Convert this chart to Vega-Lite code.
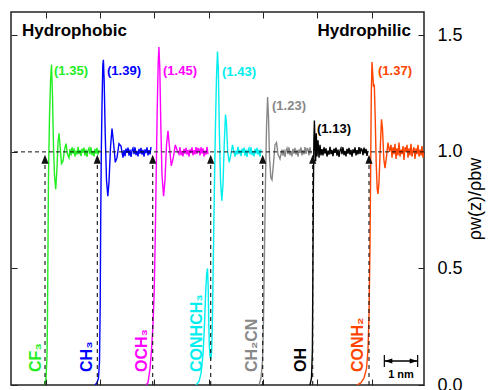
{
"$schema":"https://vega.github.io/schema/vega-lite/v6.json",
"width":413,"height":373,
"autosize":{"type":"none"},
"padding":{"left":11,"top":12,"right":65,"bottom":5},
"background":"white",
"config":{"font":"Liberation Sans","view":{"stroke":"#222","strokeWidth":1.5},"axis":{"tickColor":"#222","tickWidth":1,"grid":false,"domain":false}},
"datasets":{
"profiles":[
{"s":"CF3","x":1.005,"y":0},{"s":"CF3","x":1.05,"y":0.03},{"s":"CF3","x":1.08,"y":0.12},{"s":"CF3","x":1.095,"y":0.3},{"s":"CF3","x":1.11,"y":0.6},{"s":"CF3","x":1.125,"y":0.9},{"s":"CF3","x":1.155,"y":1.15},{"s":"CF3","x":1.185,"y":1.3},{"s":"CF3","x":1.215,"y":1.375},{"s":"CF3","x":1.245,"y":1.24},{"s":"CF3","x":1.275,"y":1.02},{"s":"CF3","x":1.305,"y":0.9},{"s":"CF3","x":1.341,"y":0.84},{"s":"CF3","x":1.38,"y":0.93},{"s":"CF3","x":1.41,"y":1.04},{"s":"CF3","x":1.44,"y":1.08},{"s":"CF3","x":1.47,"y":1.03},{"s":"CF3","x":1.515,"y":0.95},{"s":"CF3","x":1.56,"y":0.96},{"s":"CF3","x":1.605,"y":1.01},{"s":"CF3","x":1.65,"y":1.035},{"s":"CF3","x":1.695,"y":0.99},{"s":"CF3","x":1.74,"y":0.975},
{"s":"CF3","x":1.77,"y":1.012},{"s":"CF3","x":1.8,"y":0.985},{"s":"CF3","x":1.83,"y":1.02},{"s":"CF3","x":1.86,"y":0.992},{"s":"CF3","x":1.89,"y":1.015},{"s":"CF3","x":1.92,"y":0.98},{"s":"CF3","x":1.95,"y":1.005},{"s":"CF3","x":1.98,"y":0.988},{"s":"CF3","x":2.01,"y":1.022},{"s":"CF3","x":2.04,"y":0.99},{"s":"CF3","x":2.07,"y":1.008},{"s":"CF3","x":2.1,"y":0.982},{"s":"CF3","x":2.13,"y":1.014},{"s":"CF3","x":2.16,"y":0.996},{"s":"CF3","x":2.19,"y":1.018},{"s":"CF3","x":2.22,"y":0.984},{"s":"CF3","x":2.25,"y":1.01},{"s":"CF3","x":2.28,"y":0.978},{"s":"CF3","x":2.31,"y":1.006},{"s":"CF3","x":2.34,"y":1.016},{"s":"CF3","x":2.37,"y":0.99},{"s":"CF3","x":2.4,"y":1.02},{"s":"CF3","x":2.43,"y":0.986},{"s":"CF3","x":2.46,"y":1.004},{"s":"CF3","x":2.49,"y":0.981},{"s":"CF3","x":2.52,"y":1.013},{"s":"CF3","x":2.55,"y":0.993},{"s":"CF3","x":2.58,"y":1.017},{"s":"CF3","x":2.61,"y":0.988},{"s":"CF3","x":2.64,"y":1.009},
{"s":"CH3","x":2.52,"y":0},{"s":"CH3","x":2.58,"y":0.01},{"s":"CH3","x":2.625,"y":0.03},{"s":"CH3","x":2.655,"y":0.1},{"s":"CH3","x":2.676,"y":0.35},{"s":"CH3","x":2.691,"y":0.7},{"s":"CH3","x":2.709,"y":1.0},{"s":"CH3","x":2.73,"y":1.2},{"s":"CH3","x":2.754,"y":1.37},{"s":"CH3","x":2.772,"y":1.395},{"s":"CH3","x":2.796,"y":1.3},{"s":"CH3","x":2.826,"y":1.08},{"s":"CH3","x":2.865,"y":0.88},{"s":"CH3","x":2.904,"y":0.81},{"s":"CH3","x":2.94,"y":0.87},{"s":"CH3","x":2.985,"y":1.02},{"s":"CH3","x":3.03,"y":1.1},{"s":"CH3","x":3.075,"y":1.04},{"s":"CH3","x":3.129,"y":0.955},{"s":"CH3","x":3.18,"y":0.975},{"s":"CH3","x":3.24,"y":1.035},{"s":"CH3","x":3.3,"y":1.025},{"s":"CH3","x":3.36,"y":0.975},
{"s":"CH3","x":3.39,"y":1.008},{"s":"CH3","x":3.42,"y":0.982},{"s":"CH3","x":3.45,"y":1.014},{"s":"CH3","x":3.48,"y":0.996},{"s":"CH3","x":3.51,"y":1.018},{"s":"CH3","x":3.54,"y":0.984},{"s":"CH3","x":3.57,"y":1.01},{"s":"CH3","x":3.6,"y":0.978},{"s":"CH3","x":3.63,"y":1.006},{"s":"CH3","x":3.66,"y":1.016},{"s":"CH3","x":3.69,"y":0.99},{"s":"CH3","x":3.72,"y":1.02},{"s":"CH3","x":3.75,"y":0.986},{"s":"CH3","x":3.78,"y":1.004},{"s":"CH3","x":3.81,"y":0.981},{"s":"CH3","x":3.84,"y":1.013},{"s":"CH3","x":3.87,"y":0.993},{"s":"CH3","x":3.9,"y":1.017},{"s":"CH3","x":3.93,"y":0.988},{"s":"CH3","x":3.96,"y":1.009},{"s":"CH3","x":3.99,"y":0.979},{"s":"CH3","x":4.02,"y":1.011},{"s":"CH3","x":4.05,"y":0.995},{"s":"CH3","x":4.08,"y":1.019},{"s":"CH3","x":4.11,"y":0.985},{"s":"CH3","x":4.14,"y":1.007},{"s":"CH3","x":4.17,"y":0.989},{"s":"CH3","x":4.2,"y":1.021},
{"s":"OCH3","x":4.05,"y":0},{"s":"OCH3","x":4.11,"y":0.01},{"s":"OCH3","x":4.17,"y":0.07},{"s":"OCH3","x":4.215,"y":0.15},{"s":"OCH3","x":4.26,"y":0.26},{"s":"OCH3","x":4.296,"y":0.4},{"s":"OCH3","x":4.326,"y":0.62},{"s":"OCH3","x":4.356,"y":0.9},{"s":"OCH3","x":4.386,"y":1.18},{"s":"OCH3","x":4.416,"y":1.38},{"s":"OCH3","x":4.437,"y":1.45},{"s":"OCH3","x":4.464,"y":1.36},{"s":"OCH3","x":4.494,"y":1.12},{"s":"OCH3","x":4.53,"y":0.9},{"s":"OCH3","x":4.578,"y":0.81},{"s":"OCH3","x":4.62,"y":0.88},{"s":"OCH3","x":4.665,"y":1.03},{"s":"OCH3","x":4.71,"y":1.09},{"s":"OCH3","x":4.755,"y":1.02},{"s":"OCH3","x":4.809,"y":0.94},{"s":"OCH3","x":4.869,"y":0.975},{"s":"OCH3","x":4.929,"y":1.03},{"s":"OCH3","x":4.989,"y":1.005},
{"s":"OCH3","x":5.04,"y":0.99},{"s":"OCH3","x":5.07,"y":1.02},{"s":"OCH3","x":5.1,"y":0.986},{"s":"OCH3","x":5.13,"y":1.004},{"s":"OCH3","x":5.16,"y":0.981},{"s":"OCH3","x":5.19,"y":1.013},{"s":"OCH3","x":5.22,"y":0.993},{"s":"OCH3","x":5.25,"y":1.017},{"s":"OCH3","x":5.28,"y":0.988},{"s":"OCH3","x":5.31,"y":1.009},{"s":"OCH3","x":5.34,"y":0.979},{"s":"OCH3","x":5.37,"y":1.011},{"s":"OCH3","x":5.4,"y":0.995},{"s":"OCH3","x":5.43,"y":1.019},{"s":"OCH3","x":5.46,"y":0.985},{"s":"OCH3","x":5.49,"y":1.007},{"s":"OCH3","x":5.52,"y":0.989},{"s":"OCH3","x":5.55,"y":1.021},{"s":"OCH3","x":5.58,"y":0.991},{"s":"OCH3","x":5.61,"y":1.014},{"s":"OCH3","x":5.64,"y":1.012},{"s":"OCH3","x":5.67,"y":0.985},{"s":"OCH3","x":5.7,"y":1.02},{"s":"OCH3","x":5.73,"y":0.992},{"s":"OCH3","x":5.76,"y":1.015},{"s":"OCH3","x":5.79,"y":0.98},{"s":"OCH3","x":5.82,"y":1.005},{"s":"OCH3","x":5.85,"y":0.988},{"s":"OCH3","x":5.88,"y":1.022},{"s":"OCH3","x":5.91,"y":0.99},
{"s":"CONHCH3","x":5.55,"y":0},{"s":"CONHCH3","x":5.64,"y":0.015},{"s":"CONHCH3","x":5.7,"y":0.05},{"s":"CONHCH3","x":5.76,"y":0.13},{"s":"CONHCH3","x":5.805,"y":0.26},{"s":"CONHCH3","x":5.841,"y":0.4},{"s":"CONHCH3","x":5.871,"y":0.48},{"s":"CONHCH3","x":5.895,"y":0.5},{"s":"CONHCH3","x":5.916,"y":0.42},{"s":"CONHCH3","x":5.931,"y":0.28},{"s":"CONHCH3","x":5.949,"y":0.17},{"s":"CONHCH3","x":5.97,"y":0.125},{"s":"CONHCH3","x":5.994,"y":0.11},{"s":"CONHCH3","x":6.018,"y":0.14},{"s":"CONHCH3","x":6.039,"y":0.25},{"s":"CONHCH3","x":6.06,"y":0.45},{"s":"CONHCH3","x":6.084,"y":0.68},{"s":"CONHCH3","x":6.108,"y":0.9},{"s":"CONHCH3","x":6.135,"y":1.12},{"s":"CONHCH3","x":6.165,"y":1.32},{"s":"CONHCH3","x":6.195,"y":1.43},{"s":"CONHCH3","x":6.219,"y":1.36},{"s":"CONHCH3","x":6.249,"y":1.1},{"s":"CONHCH3","x":6.285,"y":0.88},{"s":"CONHCH3","x":6.324,"y":0.79},{"s":"CONHCH3","x":6.36,"y":0.86},{"s":"CONHCH3","x":6.399,"y":1.04},{"s":"CONHCH3","x":6.435,"y":1.16},{"s":"CONHCH3","x":6.465,"y":1.12},{"s":"CONHCH3","x":6.501,"y":1.0},{"s":"CONHCH3","x":6.546,"y":0.955},{"s":"CONHCH3","x":6.6,"y":0.99},{"s":"CONHCH3","x":6.645,"y":1.03},{"s":"CONHCH3","x":6.69,"y":1.0},
{"s":"CONHCH3","x":6.72,"y":0.98},{"s":"CONHCH3","x":6.75,"y":1.005},{"s":"CONHCH3","x":6.78,"y":0.988},{"s":"CONHCH3","x":6.81,"y":1.022},{"s":"CONHCH3","x":6.84,"y":0.99},{"s":"CONHCH3","x":6.87,"y":1.008},{"s":"CONHCH3","x":6.9,"y":0.982},{"s":"CONHCH3","x":6.93,"y":1.014},{"s":"CONHCH3","x":6.96,"y":0.996},{"s":"CONHCH3","x":6.99,"y":1.018},{"s":"CONHCH3","x":7.02,"y":0.984},{"s":"CONHCH3","x":7.05,"y":1.01},{"s":"CONHCH3","x":7.08,"y":0.978},{"s":"CONHCH3","x":7.11,"y":1.006},{"s":"CONHCH3","x":7.14,"y":1.016},{"s":"CONHCH3","x":7.17,"y":0.99},{"s":"CONHCH3","x":7.2,"y":1.02},{"s":"CONHCH3","x":7.23,"y":0.986},{"s":"CONHCH3","x":7.26,"y":1.004},{"s":"CONHCH3","x":7.29,"y":0.981},{"s":"CONHCH3","x":7.32,"y":1.013},{"s":"CONHCH3","x":7.35,"y":0.993},{"s":"CONHCH3","x":7.38,"y":1.017},{"s":"CONHCH3","x":7.41,"y":0.988},{"s":"CONHCH3","x":7.44,"y":1.009},{"s":"CONHCH3","x":7.47,"y":0.979},{"s":"CONHCH3","x":7.5,"y":1.011},
{"s":"CH2CN","x":7.44,"y":0},{"s":"CH2CN","x":7.5,"y":0.03},{"s":"CH2CN","x":7.545,"y":0.1},{"s":"CH2CN","x":7.575,"y":0.28},{"s":"CH2CN","x":7.605,"y":0.58},{"s":"CH2CN","x":7.635,"y":0.88},{"s":"CH2CN","x":7.665,"y":1.1},{"s":"CH2CN","x":7.698,"y":1.235},{"s":"CH2CN","x":7.725,"y":1.15},{"s":"CH2CN","x":7.755,"y":0.98},{"s":"CH2CN","x":7.794,"y":0.89},{"s":"CH2CN","x":7.83,"y":0.88},{"s":"CH2CN","x":7.875,"y":0.95},{"s":"CH2CN","x":7.92,"y":1.03},{"s":"CH2CN","x":7.965,"y":1.04},{"s":"CH2CN","x":8.01,"y":0.99},{"s":"CH2CN","x":8.07,"y":0.97},{"s":"CH2CN","x":8.13,"y":1.01},
{"s":"CH2CN","x":8.16,"y":0.984},{"s":"CH2CN","x":8.19,"y":1.01},{"s":"CH2CN","x":8.22,"y":0.978},{"s":"CH2CN","x":8.25,"y":1.006},{"s":"CH2CN","x":8.28,"y":1.016},{"s":"CH2CN","x":8.31,"y":0.99},{"s":"CH2CN","x":8.34,"y":1.02},{"s":"CH2CN","x":8.37,"y":0.986},{"s":"CH2CN","x":8.4,"y":1.004},{"s":"CH2CN","x":8.43,"y":0.981},{"s":"CH2CN","x":8.46,"y":1.013},{"s":"CH2CN","x":8.49,"y":0.993},{"s":"CH2CN","x":8.52,"y":1.017},{"s":"CH2CN","x":8.55,"y":0.988},{"s":"CH2CN","x":8.58,"y":1.009},{"s":"CH2CN","x":8.61,"y":0.979},{"s":"CH2CN","x":8.64,"y":1.011},{"s":"CH2CN","x":8.67,"y":0.995},{"s":"CH2CN","x":8.7,"y":1.019},{"s":"CH2CN","x":8.73,"y":0.985},{"s":"CH2CN","x":8.76,"y":1.007},{"s":"CH2CN","x":8.79,"y":0.989},{"s":"CH2CN","x":8.82,"y":1.021},{"s":"CH2CN","x":8.85,"y":0.991},{"s":"CH2CN","x":8.88,"y":1.014},{"s":"CH2CN","x":8.91,"y":1.012},{"s":"CH2CN","x":8.94,"y":0.985},{"s":"CH2CN","x":8.97,"y":1.02},{"s":"CH2CN","x":9.0,"y":0.992},
{"s":"OH","x":8.97,"y":0},{"s":"OH","x":9.015,"y":0.03},{"s":"OH","x":9.042,"y":0.15},{"s":"OH","x":9.057,"y":0.5},{"s":"OH","x":9.072,"y":0.85},{"s":"OH","x":9.087,"y":1.05},{"s":"OH","x":9.102,"y":1.135},{"s":"OH","x":9.12,"y":1.04},{"s":"OH","x":9.138,"y":0.96},{"s":"OH","x":9.159,"y":1.08},{"s":"OH","x":9.18,"y":0.98},{"s":"OH","x":9.21,"y":1.05},{"s":"OH","x":9.24,"y":0.975},{"s":"OH","x":9.27,"y":1.03},{"s":"OH","x":9.3,"y":0.985},
{"s":"OH","x":9.33,"y":1.012},{"s":"OH","x":9.36,"y":0.985},{"s":"OH","x":9.39,"y":1.02},{"s":"OH","x":9.42,"y":0.992},{"s":"OH","x":9.45,"y":1.015},{"s":"OH","x":9.48,"y":0.98},{"s":"OH","x":9.51,"y":1.005},{"s":"OH","x":9.54,"y":0.988},{"s":"OH","x":9.57,"y":1.022},{"s":"OH","x":9.6,"y":0.99},{"s":"OH","x":9.63,"y":1.008},{"s":"OH","x":9.66,"y":0.982},{"s":"OH","x":9.69,"y":1.014},{"s":"OH","x":9.72,"y":0.996},{"s":"OH","x":9.75,"y":1.018},{"s":"OH","x":9.78,"y":0.984},{"s":"OH","x":9.81,"y":1.01},{"s":"OH","x":9.84,"y":0.978},{"s":"OH","x":9.87,"y":1.006},{"s":"OH","x":9.9,"y":1.016},{"s":"OH","x":9.93,"y":0.99},{"s":"OH","x":9.96,"y":1.02},{"s":"OH","x":9.99,"y":0.986},{"s":"OH","x":10.02,"y":1.004},{"s":"OH","x":10.05,"y":0.981},{"s":"OH","x":10.08,"y":1.013},{"s":"OH","x":10.11,"y":0.993},{"s":"OH","x":10.14,"y":1.017},{"s":"OH","x":10.17,"y":0.988},{"s":"OH","x":10.2,"y":1.009},{"s":"OH","x":10.23,"y":0.979},{"s":"OH","x":10.26,"y":1.011},{"s":"OH","x":10.29,"y":0.995},{"s":"OH","x":10.32,"y":1.019},{"s":"OH","x":10.35,"y":0.985},{"s":"OH","x":10.38,"y":1.007},{"s":"OH","x":10.41,"y":0.989},{"s":"OH","x":10.44,"y":1.021},{"s":"OH","x":10.47,"y":0.991},{"s":"OH","x":10.5,"y":1.014},{"s":"OH","x":10.53,"y":1.01},{"s":"OH","x":10.56,"y":0.986},{"s":"OH","x":10.59,"y":1.018},{"s":"OH","x":10.62,"y":0.994},{"s":"OH","x":10.65,"y":1.013},{"s":"OH","x":10.68,"y":0.983},{"s":"OH","x":10.71,"y":1.004},
{"s":"CONH2","x":10.38,"y":0},{"s":"CONH2","x":10.5,"y":0.01},{"s":"CONH2","x":10.59,"y":0.03},{"s":"CONH2","x":10.665,"y":0.07},{"s":"CONH2","x":10.71,"y":0.15},{"s":"CONH2","x":10.74,"y":0.3},{"s":"CONH2","x":10.77,"y":0.6},{"s":"CONH2","x":10.791,"y":0.95},{"s":"CONH2","x":10.809,"y":1.25},{"s":"CONH2","x":10.83,"y":1.385},{"s":"CONH2","x":10.854,"y":1.33},{"s":"CONH2","x":10.875,"y":1.28},{"s":"CONH2","x":10.899,"y":1.29},{"s":"CONH2","x":10.926,"y":1.15},{"s":"CONH2","x":10.956,"y":0.95},{"s":"CONH2","x":10.986,"y":0.84},{"s":"CONH2","x":11.01,"y":0.82},{"s":"CONH2","x":11.04,"y":0.87},{"s":"CONH2","x":11.079,"y":1.02},{"s":"CONH2","x":11.115,"y":1.14},{"s":"CONH2","x":11.145,"y":1.1},{"s":"CONH2","x":11.184,"y":0.97},{"s":"CONH2","x":11.22,"y":0.93},{"s":"CONH2","x":11.265,"y":0.98},{"s":"CONH2","x":11.31,"y":1.04},{"s":"CONH2","x":11.355,"y":1.0},
{"s":"CONH2","x":11.4,"y":1.03},{"s":"CONH2","x":11.43,"y":0.975},{"s":"CONH2","x":11.46,"y":1.02},{"s":"CONH2","x":11.49,"y":0.99},{"s":"CONH2","x":11.52,"y":1.035},{"s":"CONH2","x":11.55,"y":0.97},{"s":"CONH2","x":11.58,"y":1.015},{"s":"CONH2","x":11.61,"y":0.985},{"s":"CONH2","x":11.64,"y":1.04},{"s":"CONH2","x":11.67,"y":0.98},{"s":"CONH2","x":11.7,"y":1.01},{"s":"CONH2","x":11.73,"y":0.99},{"s":"CONH2","x":11.76,"y":1.025},{"s":"CONH2","x":11.79,"y":0.965},{"s":"CONH2","x":11.82,"y":1.02},{"s":"CONH2","x":11.85,"y":1.0},{"s":"CONH2","x":11.88,"y":1.03},{"s":"CONH2","x":11.91,"y":0.975},{"s":"CONH2","x":11.94,"y":1.015},{"s":"CONH2","x":11.97,"y":0.985},{"s":"CONH2","x":12.0,"y":1.035},{"s":"CONH2","x":12.03,"y":0.98},{"s":"CONH2","x":12.06,"y":1.005},{"s":"CONH2","x":12.09,"y":1.02},{"s":"CONH2","x":12.12,"y":0.97},{"s":"CONH2","x":12.15,"y":1.015},{"s":"CONH2","x":12.18,"y":0.99},{"s":"CONH2","x":12.21,"y":1.03},{"s":"CONH2","x":12.24,"y":0.98},{"s":"CONH2","x":12.27,"y":1.01},{"s":"CONH2","x":12.3,"y":0.985},{"s":"CONH2","x":12.33,"y":1.025},{"s":"CONH2","x":12.36,"y":0.975},{"s":"CONH2","x":12.39,"y":1.005}
],
"surfaces":[{"x":1.02,"y":0,"y2":0.96},{"x":2.589,"y":0,"y2":0.96},{"x":4.251,"y":0,"y2":0.96},{"x":5.991,"y":0,"y2":0.96},{"x":7.551,"y":0,"y2":0.96},{"x":9.051,"y":0,"y2":0.96},{"x":10.74,"y":0,"y2":0.96}],
"arrows":[{"x":1.02,"y":0.968},{"x":2.589,"y":0.968},{"x":4.251,"y":0.968},{"x":5.991,"y":0.968},{"x":7.551,"y":0.968},{"x":9.051,"y":0.968},{"x":10.74,"y":0.968}],
"groupLabels":[{"s":"CF3","t":"CF₃","x":0.735,"y":0.056},{"s":"CH3","t":"CH₃","x":2.28,"y":0.056},{"s":"OCH3","t":"OCH₃","x":3.93,"y":0.056},{"s":"CONHCH3","t":"CONHCH₃","x":5.571,"y":0.056},{"s":"CH2CN","t":"CH₂CN","x":7.215,"y":0.056},{"s":"OH","t":"OH","x":8.7,"y":0.056},{"s":"CONH2","t":"CONH₂","x":10.41,"y":0.056}],
"peakLabels":[{"s":"CF3","t":"(1.35)","x":1.29,"y":1.345},{"s":"CH3","t":"(1.39)","x":2.88,"y":1.345},{"s":"OCH3","t":"(1.45)","x":4.56,"y":1.348},{"s":"CONHCH3","t":"(1.43)","x":6.33,"y":1.343},{"s":"CH2CN","t":"(1.23)","x":7.83,"y":1.197},{"s":"OH","t":"(1.13)","x":9.18,"y":1.099},{"s":"CONH2","t":"(1.37)","x":11.01,"y":1.348}]
},
"layer":[
{"data":{"name":"profiles"},"mark":{"type":"line","strokeWidth":1.4,"clip":true},
"encoding":{
"x":{"field":"x","type":"quantitative","scale":{"domain":[0,12.39],"nice":false,"zero":false},"axis":{"orient":"bottom","values":[1.05,2.67,4.3,5.94,7.56,9.19,10.82],"labels":false,"tickSize":-6,"title":null}},
"y":{"field":"y","type":"quantitative","scale":{"domain":[0,1.6],"nice":false,"zero":false},"axis":{"orient":"left","values":[0,0.5,1,1.5],"labels":false,"tickSize":-6,"title":null}},
"color":{"field":"s","type":"nominal","scale":{"domain":["CF3","CH3","OCH3","CONHCH3","CH2CN","OH","CONH2"],"range":["#22ee22","#0000ff","#ff00ff","#00eeee","#888888","#000000","#ff4500"]},"legend":null},
"order":{"value":null}}},
{"data":{"values":[{"y":1}]},"mark":{"type":"rule","color":"#111","strokeWidth":1,"strokeDash":[4,3]},
"encoding":{"y":{"field":"y","type":"quantitative","scale":{"domain":[0,1.6],"nice":false,"zero":false},"axis":null}}},
{"data":{"name":"surfaces"},"mark":{"type":"rule","color":"#111","strokeWidth":1.1,"strokeDash":[4,4]},
"encoding":{
"x":{"field":"x","type":"quantitative","scale":{"domain":[0,12.39],"nice":false,"zero":false},"axis":{"orient":"top","values":[1.05,2.67,4.3,5.94,7.56,9.19,10.82],"labels":false,"tickSize":-6,"title":null}},
"y":{"field":"y","type":"quantitative","scale":{"domain":[0,1.6],"nice":false,"zero":false},"axis":{"orient":"right","values":[0,0.5,1,1.5],"format":".1f","tickSize":-6,"labelPadding":19,"labelFontSize":18,"labelColor":"#000","labelFlush":false,"title":"ρw(z)/ρbw","titleAngle":270,"titleFontSize":18,"titleFontWeight":"normal","titleColor":"#000","titlePadding":22}},
"y2":{"field":"y2"}}},
{"data":{"name":"arrows"},"mark":{"type":"point","shape":"M -0.8 1 L 0.8 1 L 0 -1 Z","size":81,"filled":true,"color":"#111","opacity":1},
"encoding":{
"x":{"field":"x","type":"quantitative","scale":{"domain":[0,12.39],"nice":false,"zero":false},"axis":null},
"y":{"field":"y","type":"quantitative","scale":{"domain":[0,1.6],"nice":false,"zero":false},"axis":null}}},
{"data":{"name":"groupLabels"},"mark":{"type":"text","angle":270,"align":"left","baseline":"middle","fontSize":16,"fontWeight":"bold"},
"encoding":{
"x":{"field":"x","type":"quantitative","scale":{"domain":[0,12.39],"nice":false,"zero":false},"axis":null},
"y":{"field":"y","type":"quantitative","scale":{"domain":[0,1.6],"nice":false,"zero":false},"axis":null},
"text":{"field":"t"},
"color":{"field":"s","type":"nominal","scale":{"domain":["CF3","CH3","OCH3","CONHCH3","CH2CN","OH","CONH2"],"range":["#22ee22","#0000ff","#ff00ff","#00eeee","#888888","#000000","#ff4500"]},"legend":null}}},
{"data":{"name":"peakLabels"},"mark":{"type":"text","align":"left","baseline":"middle","fontSize":13,"fontWeight":"bold"},
"encoding":{
"x":{"field":"x","type":"quantitative","scale":{"domain":[0,12.39],"nice":false,"zero":false},"axis":null},
"y":{"field":"y","type":"quantitative","scale":{"domain":[0,1.6],"nice":false,"zero":false},"axis":null},
"text":{"field":"t"},
"color":{"field":"s","type":"nominal","scale":{"domain":["CF3","CH3","OCH3","CONHCH3","CH2CN","OH","CONH2"],"range":["#22ee22","#0000ff","#ff00ff","#00eeee","#888888","#000000","#ff4500"]},"legend":null}}},
{"data":{"values":[{"t":"Hydrophobic","x":0.33,"y":1.498}]},"mark":{"type":"text","align":"left","baseline":"alphabetic","fontSize":17,"fontWeight":"bold","color":"#000"},
"encoding":{
"x":{"field":"x","type":"quantitative","scale":{"domain":[0,12.39],"nice":false,"zero":false},"axis":null},
"y":{"field":"y","type":"quantitative","scale":{"domain":[0,1.6],"nice":false,"zero":false},"axis":null},
"text":{"field":"t"}}},
{"data":{"values":[{"t":"Hydrophilic","x":12.0,"y":1.498}]},"mark":{"type":"text","align":"right","baseline":"alphabetic","fontSize":17,"fontWeight":"bold","color":"#000"},
"encoding":{
"x":{"field":"x","type":"quantitative","scale":{"domain":[0,12.39],"nice":false,"zero":false},"axis":null},
"y":{"field":"y","type":"quantitative","scale":{"domain":[0,1.6],"nice":false,"zero":false},"axis":null},
"text":{"field":"t"}}},
{"data":{"values":[{"x":11.2,"x2":12.2,"y":0.103}]},"mark":{"type":"rule","color":"#000","strokeWidth":1.5},
"encoding":{
"x":{"field":"x","type":"quantitative","scale":{"domain":[0,12.39],"nice":false,"zero":false},"axis":null},
"x2":{"field":"x2"},
"y":{"field":"y","type":"quantitative","scale":{"domain":[0,1.6],"nice":false,"zero":false},"axis":null}}},
{"data":{"values":[{"x":11.2,"y":0.077,"y2":0.129},{"x":12.2,"y":0.077,"y2":0.129}]},"mark":{"type":"rule","color":"#000","strokeWidth":1.2},
"encoding":{
"x":{"field":"x","type":"quantitative","scale":{"domain":[0,12.39],"nice":false,"zero":false},"axis":null},
"y":{"field":"y","type":"quantitative","scale":{"domain":[0,1.6],"nice":false,"zero":false},"axis":null},
"y2":{"field":"y2"}}},
{"data":{"values":[{"x":11.32,"y":0.103}]},"mark":{"type":"point","shape":"M -1 0 L 1 -0.6 L 1 0.6 Z","size":64,"filled":true,"color":"#000","opacity":1},
"encoding":{
"x":{"field":"x","type":"quantitative","scale":{"domain":[0,12.39],"nice":false,"zero":false},"axis":null},
"y":{"field":"y","type":"quantitative","scale":{"domain":[0,1.6],"nice":false,"zero":false},"axis":null}}},
{"data":{"values":[{"x":12.08,"y":0.103}]},"mark":{"type":"point","shape":"M 1 0 L -1 -0.6 L -1 0.6 Z","size":64,"filled":true,"color":"#000","opacity":1},
"encoding":{
"x":{"field":"x","type":"quantitative","scale":{"domain":[0,12.39],"nice":false,"zero":false},"axis":null},
"y":{"field":"y","type":"quantitative","scale":{"domain":[0,1.6],"nice":false,"zero":false},"axis":null}}},
{"data":{"values":[{"t":"1 nm","x":11.7,"y":0.043}]},"mark":{"type":"text","align":"center","baseline":"middle","fontSize":11,"fontWeight":"bold","color":"#000"},
"encoding":{
"x":{"field":"x","type":"quantitative","scale":{"domain":[0,12.39],"nice":false,"zero":false},"axis":null},
"y":{"field":"y","type":"quantitative","scale":{"domain":[0,1.6],"nice":false,"zero":false},"axis":null},
"text":{"field":"t"}}}
],
"resolve":{"axis":{"x":"independent","y":"independent"}}
}
